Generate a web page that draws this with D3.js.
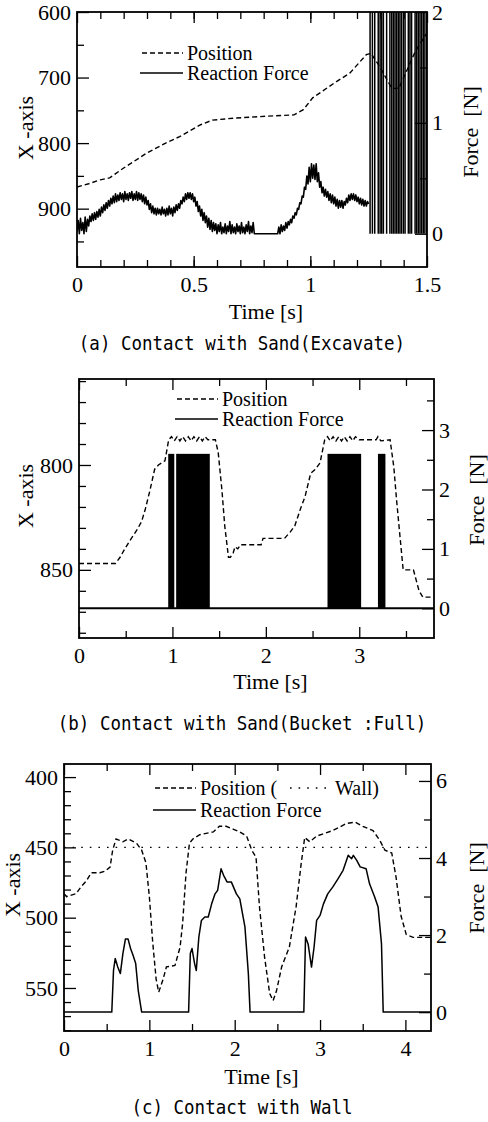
<!DOCTYPE html>
<html>
<head>
<meta charset="utf-8">
<script src="https://cdn.jsdelivr.net/npm/d3@7"></script>
<style>
body { margin: 0; background: #fff; }
svg text { font-family: "Liberation Serif", "Times New Roman", serif; fill: #000; }
.cap { font-family: "DejaVu Sans Mono", monospace; font-size: 17.5px; }
</style>
</head>
<body>
<svg id="fig" width="488" height="1122"></svg>
<script>
// (a) excavate: position [t, X], force [t, N], force spikes after 1.25 s
let aPosition = [[0,867],[0.05,862],[0.1,856],[0.14,853],[0.2,838],[0.3,815],[0.38,800],[0.44,790],
	[0.53,772],[0.58,765],[0.67,762],[0.81,759],[0.93,757],[0.97,749],[1.01,731],[1.1,709],[1.17,693],
	[1.24,665],[1.26,663],[1.3,685],[1.35,717],[1.38,716],[1.45,660],[1.5,632]];
let aForce = [[0,0.02],[0.005,0.12],[0.01,0],[0.015,0.14],[0.02,0.03],[0.025,0.1],[0.03,0],[0.035,0.15],
	[0.04,0.02],[0.045,0.13],[0.05,0.07],[0.055,0.16],[0.06,0.11],[0.065,0.18],[0.07,0.12],[0.075,0.19],
	[0.08,0.13],[0.085,0.2],[0.09,0.15],[0.095,0.22],[0.1,0.16],[0.105,0.24],[0.11,0.19],[0.115,0.26],
	[0.12,0.21],[0.125,0.28],[0.13,0.23],[0.135,0.3],[0.14,0.25],[0.145,0.32],[0.15,0.27],[0.155,0.34],
	[0.16,0.28],[0.165,0.36],[0.17,0.29],[0.175,0.35],[0.18,0.3],[0.185,0.37],[0.19,0.31],[0.195,0.36],
	[0.2,0.29],[0.205,0.38],[0.21,0.31],[0.215,0.36],[0.22,0.3],[0.225,0.37],[0.23,0.32],[0.235,0.38],
	[0.24,0.3],[0.245,0.36],[0.25,0.31],[0.255,0.38],[0.26,0.3],[0.265,0.37],[0.27,0.31],[0.275,0.36],
	[0.28,0.29],[0.285,0.35],[0.29,0.27],[0.295,0.33],[0.3,0.26],[0.305,0.3],[0.31,0.22],[0.315,0.27],
	[0.32,0.19],[0.325,0.25],[0.33,0.18],[0.335,0.23],[0.34,0.17],[0.345,0.23],[0.35,0.18],[0.355,0.22],
	[0.36,0.17],[0.365,0.24],[0.37,0.18],[0.375,0.22],[0.38,0.16],[0.385,0.23],[0.39,0.17],[0.395,0.25],
	[0.4,0.18],[0.405,0.23],[0.41,0.16],[0.415,0.24],[0.42,0.19],[0.425,0.26],[0.43,0.21],[0.435,0.27],
	[0.44,0.23],[0.445,0.3],[0.45,0.27],[0.455,0.33],[0.46,0.29],[0.465,0.36],[0.47,0.31],[0.475,0.37],
	[0.48,0.32],[0.485,0.37],[0.49,0.31],[0.495,0.36],[0.5,0.29],[0.505,0.33],[0.51,0.25],[0.515,0.29],
	[0.52,0.2],[0.525,0.25],[0.53,0.16],[0.535,0.22],[0.54,0.12],[0.545,0.19],[0.55,0.1],[0.555,0.16],
	[0.56,0.06],[0.565,0.14],[0.57,0.04],[0.575,0.12],[0.58,0.02],[0.585,0.1],[0.59,0.03],[0.595,0.09],
	[0.6,0],[0.605,0.08],[0.61,0.02],[0.615,0.1],[0.62,0],[0.625,0.06],[0.63,0.01],[0.635,0.09],
	[0.64,0],[0.645,0.07],[0.65,0.02],[0.655,0.11],[0.66,0],[0.665,0.08],[0.67,0.01],[0.675,0.06],
	[0.68,0],[0.685,0.09],[0.69,0.02],[0.695,0.07],[0.7,0],[0.705,0.1],[0.71,0.01],[0.715,0.06],
	[0.72,0],[0.725,0.08],[0.73,0.02],[0.735,0.11],[0.74,0],[0.745,0.07],[0.75,0.01],[0.755,0.1],
	[0.76,0],[0.86,0],[0.865,0.06],[0.87,0],[0.875,0.08],[0.88,0.02],[0.885,0.07],[0.89,0.03],[0.895,0.1],
	[0.9,0.05],[0.905,0.11],[0.91,0.08],[0.915,0.13],[0.92,0.1],[0.925,0.16],[0.93,0.14],[0.935,0.19],
	[0.94,0.17],[0.945,0.23],[0.95,0.22],[0.955,0.28],[0.96,0.27],[0.965,0.34],[0.97,0.33],[0.975,0.42],
	[0.98,0.4],[0.985,0.52],[0.99,0.45],[0.995,0.6],[1,0.47],[1.005,0.63],[1.01,0.5],[1.015,0.62],
	[1.02,0.49],[1.025,0.63],[1.03,0.47],[1.035,0.55],[1.04,0.42],[1.045,0.47],[1.05,0.37],[1.055,0.42],
	[1.06,0.34],[1.065,0.4],[1.07,0.33],[1.075,0.38],[1.08,0.3],[1.085,0.36],[1.09,0.28],[1.095,0.35],
	[1.1,0.27],[1.105,0.33],[1.11,0.25],[1.115,0.31],[1.12,0.23],[1.125,0.3],[1.13,0.24],[1.135,0.3],
	[1.14,0.23],[1.145,0.29],[1.15,0.26],[1.155,0.32],[1.16,0.28],[1.165,0.35],[1.17,0.3],[1.175,0.36],
	[1.18,0.31],[1.185,0.36],[1.19,0.3],[1.195,0.35],[1.2,0.29],[1.205,0.33],[1.21,0.27],[1.215,0.32],
	[1.22,0.26],[1.225,0.31],[1.23,0.25],[1.235,0.3],[1.24,0.25],[1.245,0.29],[1.25,0.27]];
let aSpikes = [1.256,1.266,1.276,1.291,1.299,1.306,1.313,1.327,1.341,1.349,1.356,1.363,1.37,1.377,
	1.384,1.391,1.399,1.406,1.42,1.427,1.434,1.449,1.456,1.463,1.47,1.477,1.484,1.491,1.499];

// (b) bucket full: position, force bursts [t0, t1] at burst level
let bPosition = [[0,847],[0.39,847],[0.44,844],[0.49,840],[0.56,835],[0.62,831],[0.67,827],[0.71,821],
	[0.76,812],[0.81,802],[0.85,800],[0.92,798],[0.96,788],[0.99,786.5],[1.02,788.5],[1.05,786.5],
	[1.08,788.5],[1.11,786.5],[1.14,788.5],[1.17,786.5],[1.2,788.5],[1.23,786.5],[1.26,788.5],
	[1.29,786.5],[1.32,788.5],[1.35,786.5],[1.38,788],[1.46,788],[1.49,794],[1.53,812],[1.56,829],
	[1.6,844],[1.62,844],[1.65,842],[1.67,839],[1.7,840],[1.73,838],[1.95,838],[1.97,835],[2.2,835],
	[2.26,832],[2.31,829],[2.37,821],[2.42,815],[2.48,804],[2.53,802],[2.58,799],[2.63,788],
	[2.66,786.5],[2.69,788.5],[2.72,786.5],[2.75,788.5],[2.78,786.5],[2.81,788.5],[2.84,786.5],
	[2.87,788.5],[2.9,786.5],[2.93,788.5],[2.96,786.5],[3.0,788],[3.18,788],[3.2,786.5],[3.23,788.5],
	[3.33,788],[3.37,801],[3.4,817],[3.44,836],[3.47,850],[3.58,850],[3.61,855],[3.64,860],[3.68,863],
	[3.8,863]];
let bForce = [[0,0],[3.8,0]];
let bBursts = [[0.955,1.02],[1.04,1.4],[2.66,3.02],[3.2,3.28]];
let bBurstLevel = 2.6;

// (c) wall: position, force, wall position
let cPosition = [[0,483],[0.03,485],[0.14,483],[0.2,478],[0.26,474],[0.32,468],[0.42,468],[0.48,467],
	[0.54,464],[0.57,452],[0.61,444],[0.65,445],[0.69,446],[0.75,444],[0.85,447],[0.91,452],[0.96,461],
	[1,485],[1.04,518],[1.08,544],[1.11,553],[1.16,544],[1.2,535],[1.3,534],[1.36,521],[1.39,504],
	[1.43,468],[1.47,447],[1.51,444],[1.59,441],[1.75,439],[1.82,435],[1.9,435],[1.98,437],[2.06,439],
	[2.14,442],[2.2,452],[2.25,457],[2.29,492],[2.35,528],[2.41,554],[2.45,559],[2.49,552],[2.55,535],
	[2.64,521],[2.72,492],[2.78,461],[2.82,443],[2.88,446],[2.96,442],[3.15,438],[3.31,433],[3.41,432],
	[3.5,435],[3.62,438],[3.7,445],[3.76,452],[3.84,454],[3.89,471],[3.95,499],[4.01,512],[4.09,514],
	[4.3,514]];
let cForce = [[0,0],[0.56,0],[0.58,1.08],[0.6,1.39],[0.63,1.17],[0.66,1],[0.69,1.52],[0.72,1.9],
	[0.75,1.9],[0.78,1.65],[0.81,1.47],[0.84,1.26],[0.87,0.56],[0.91,0],[1.46,0],[1.48,1.52],[1.5,1.65],
	[1.53,1.26],[1.55,1.08],[1.58,1.95],[1.61,2.38],[1.65,2.47],[1.69,2.47],[1.73,2.81],[1.77,3.07],
	[1.8,3.16],[1.84,3.72],[1.87,3.55],[1.91,3.38],[1.96,3.38],[2.02,3.07],[2.06,2.94],[2.12,2.21],
	[2.16,1],[2.18,0],[2.81,0],[2.83,1.95],[2.86,1.77],[2.9,1.17],[2.93,1.69],[2.96,2.38],[3,2.51],
	[3.04,2.81],[3.09,3.07],[3.15,3.25],[3.21,3.46],[3.27,3.68],[3.33,4.07],[3.37,3.98],[3.39,4.07],
	[3.43,3.94],[3.47,3.77],[3.54,3.72],[3.58,3.33],[3.64,2.99],[3.68,2.73],[3.72,1.77],[3.74,0],[4.3,0]];
let cWall = 450;

// tick labels
let aTimeTicks = [0, 0.5, 1, 1.5], aXTicks = [600, 700, 800, 900], aForceTicks = [0, 1, 2];
let bTimeTicks = [0, 1, 2, 3], bXTicks = [800, 850], bForceTicks = [0, 1, 2, 3];
let cTimeTicks = [0, 1, 2, 3, 4], cXTicks = [400, 450, 500, 550], cForceTicks = [0, 2, 4, 6];

let captions = ["(a) Contact with Sand(Excavate)", "(b) Contact with Sand(Bucket :Full)", "(c) Contact with Wall"];

let svg = d3.select("#fig");
let DASH = "5,3", DOT = "1.6,7";

let drawPanel = function(p, idx) {
	let [fx0, fx1, fy0, fy1] = p.frame;
	let x = d3.scaleLinear().domain(p.xDom).range([fx0, fx1]);
	let yL = d3.scaleLinear().domain(p.lDom).range([fy0, fy1]);
	let yR = d3.scaleLinear().domain(p.rDom).range([fy1, fy0]);
	let g = svg.append("g");

	let clipId = "clip" + idx;
	g.append("clipPath").attr("id", clipId).append("rect")
		.attr("x", fx0).attr("y", fy0).attr("width", fx1 - fx0).attr("height", fy1 - fy0);
	let data = g.append("g").attr("clip-path", `url(#${clipId})`);

	//axes, ticks all pointing inward
	let styleAxis = function(sel) {
		sel.select(".domain").remove();
		sel.selectAll("line").attr("stroke", "#000").attr("stroke-width", 1.3);
		sel.selectAll("text").attr("font-size", 22).attr("fill", "#000");
		sel.attr("font-family", null).attr("font-size", null);
	};
	let fmt = d => d;
	g.append("g").attr("transform", `translate(0,${fy1})`)
		.call(d3.axisBottom(x).tickValues(p.xMinor).tickSize(-7).tickFormat("")).call(styleAxis);
	g.append("g").attr("transform", `translate(0,${fy1})`)
		.call(d3.axisBottom(x).tickValues(p.xTicks).tickSize(-11).tickPadding(9).tickFormat(fmt)).call(styleAxis);
	g.append("g").attr("transform", `translate(0,${fy0})`)
		.call(d3.axisTop(x).tickValues(p.xMinor).tickSize(-7).tickFormat("")).call(styleAxis);
	g.append("g").attr("transform", `translate(0,${fy0})`)
		.call(d3.axisTop(x).tickValues(p.xTicks).tickSize(-11).tickFormat("")).call(styleAxis);
	g.append("g").attr("transform", `translate(${fx0},0)`)
		.call(d3.axisLeft(yL).tickValues(p.lMinor).tickSize(-7).tickFormat("")).call(styleAxis);
	g.append("g").attr("transform", `translate(${fx0},0)`)
		.call(d3.axisLeft(yL).tickValues(p.lTicks).tickSize(-12).tickPadding(6).tickFormat(fmt)).call(styleAxis);
	g.append("g").attr("transform", `translate(${fx1},0)`)
		.call(d3.axisRight(yR).tickValues(p.rMinor).tickSize(-7).tickFormat("")).call(styleAxis);
	g.append("g").attr("transform", `translate(${fx1},0)`)
		.call(d3.axisRight(yR).tickValues(p.rTicks).tickSize(-12).tickPadding(5).tickFormat(fmt)).call(styleAxis);

	//data
	let lineL = d3.line().x(d => x(d[0])).y(d => yL(d[1]));
	let lineR = d3.line().x(d => x(d[0])).y(d => yR(d[1]));

	if (p.wall !== undefined) {
		data.append("line").attr("x1", fx0).attr("x2", fx1)
			.attr("y1", yL(p.wall)).attr("y2", yL(p.wall))
			.attr("stroke", "#000").attr("stroke-width", 1.4).attr("stroke-dasharray", DOT);
	}
	if (p.bursts) {
		data.selectAll("rect.burst").data(p.bursts).enter().append("rect")
			.attr("class", "burst")
			.attr("x", d => x(d[0])).attr("width", d => x(d[1]) - x(d[0]))
			.attr("y", yR(p.burstLevel)).attr("height", yR(0) - yR(p.burstLevel))
			.attr("fill", "#000");
	}
	if (p.spikes) {
		data.selectAll("line.spike").data(p.spikes).enter().append("line")
			.attr("class", "spike")
			.attr("x1", d => x(d)).attr("x2", d => x(d))
			.attr("y1", yR(0)).attr("y2", fy0 - 2)
			.attr("stroke", "#000").attr("stroke-width", 1.5);
	}
	data.append("path").attr("d", lineR(p.force))
		.attr("fill", "none").attr("stroke", "#000").attr("stroke-width", p.forceWidth || 1.5)
		.attr("stroke-linejoin", "round");
	data.append("path").attr("d", lineL(p.position))
		.attr("fill", "none").attr("stroke", "#000").attr("stroke-width", 1.4)
		.attr("stroke-dasharray", DASH);

	//frame
	g.append("rect").attr("x", fx0).attr("y", fy0).attr("width", fx1 - fx0).attr("height", fy1 - fy0)
		.attr("fill", "none").attr("stroke", "#000").attr("stroke-width", 1.8);

	//legend
	let lg = p.legend;
	g.append("line").attr("x1", lg.x).attr("x2", lg.x + 41).attr("y1", lg.y1).attr("y2", lg.y1)
		.attr("stroke", "#000").attr("stroke-width", 1.4).attr("stroke-dasharray", DASH);
	let posText = g.append("text").attr("x", lg.x + 45).attr("y", lg.y1 + 7).attr("font-size", 20);
	posText.text(lg.wall ? "Position (" : "Position");
	if (lg.wall) {
		g.append("line").attr("x1", lg.wall).attr("x2", lg.wall + 43).attr("y1", lg.y1).attr("y2", lg.y1)
			.attr("stroke", "#000").attr("stroke-width", 1.4).attr("stroke-dasharray", DOT);
		g.append("text").attr("x", lg.wall + 45).attr("y", lg.y1 + 7).attr("font-size", 20).text("Wall)");
	}
	g.append("line").attr("x1", lg.x - 2).attr("x2", lg.x + 41).attr("y1", lg.y2).attr("y2", lg.y2)
		.attr("stroke", "#000").attr("stroke-width", 1.5);
	g.append("text").attr("x", lg.x + 45).attr("y", lg.y2 + 7).attr("font-size", 20).text("Reaction Force");

	//axis titles
	let cx = (fx0 + fx1) / 2;
	g.append("text").attr("x", cx + 14).attr("y", fy1 + p.titleDy).attr("font-size", 22)
		.attr("text-anchor", "middle").text("Time [s]");
	g.append("text").attr("transform", `translate(${p.leftTitle[0]},${p.leftTitle[1]}) rotate(-90)`)
		.attr("font-size", 22).attr("text-anchor", "middle").text("X -axis");
	g.append("text").attr("transform", `translate(${p.rightTitle[0]},${p.rightTitle[1]}) rotate(-90)`)
		.attr("font-size", 22).attr("text-anchor", "middle").style("white-space", "pre").text("Force  [N]");

	//caption
	svg.append("text").attr("class", "cap").attr("x", 242).attr("y", p.capY)
		.attr("text-anchor", "middle").attr("dominant-baseline", "central")
		.attr("transform", `translate(0,${p.capY}) scale(1,1.12) translate(0,${-p.capY})`)
		.style("white-space", "pre").text(captions[idx]);
};

let panels = [
	{frame: [77, 427, 12, 267], xDom: [0, 1.5], xTicks: aTimeTicks, xMinor: d3.range(0.1, 1.45, 0.1),
		lDom: [600, 989], lTicks: aXTicks, lMinor: [650, 750, 850, 950],
		rDom: [-0.3, 2], rTicks: aForceTicks, rMinor: [0.5, 1.5],
		position: aPosition, force: aForce, spikes: aSpikes, forceWidth: 1.6,
		legend: {x: 142, y1: 53, y2: 73}, titleDy: 52, leftTitle: [33, 128], rightTitle: [478, 132], capY: 343},
	{frame: [79, 434, 379, 638], xDom: [0, 3.8], xTicks: bTimeTicks, xMinor: [0.5, 1.5, 2.5, 3.5],
		lDom: [759, 882.5], lTicks: bXTicks, lMinor: [760, 770, 780, 790, 810, 820, 830, 840, 860, 870, 880],
		rDom: [-0.5, 3.86], rTicks: bForceTicks, rMinor: [0.5, 1.5, 2.5, 3.5],
		position: bPosition, force: bForce, bursts: bBursts, burstLevel: bBurstLevel, forceWidth: 2,
		legend: {x: 177, y1: 399, y2: 419}, titleDy: 51, leftTitle: [33, 496], rightTitle: [484, 500], capY: 723},
	{frame: [64, 431, 764, 1031], xDom: [0, 4.3], xTicks: cTimeTicks, xMinor: [0.5, 1.5, 2.5, 3.5],
		lDom: [390.7, 580.6], lTicks: cXTicks, lMinor: [410, 420, 430, 440, 460, 470, 480, 490, 510, 520, 530, 540, 560, 570, 580],
		rDom: [-0.49, 6.44], rTicks: cForceTicks, rMinor: [1, 3, 5],
		position: cPosition, force: cForce, wall: cWall, forceWidth: 1.5,
		legend: {x: 155, y1: 788, y2: 810, wall: 290}, titleDy: 53, leftTitle: [20, 885], rightTitle: [484, 888], capY: 1107}
];

panels.forEach(drawPanel);
</script>
</body>
</html>
